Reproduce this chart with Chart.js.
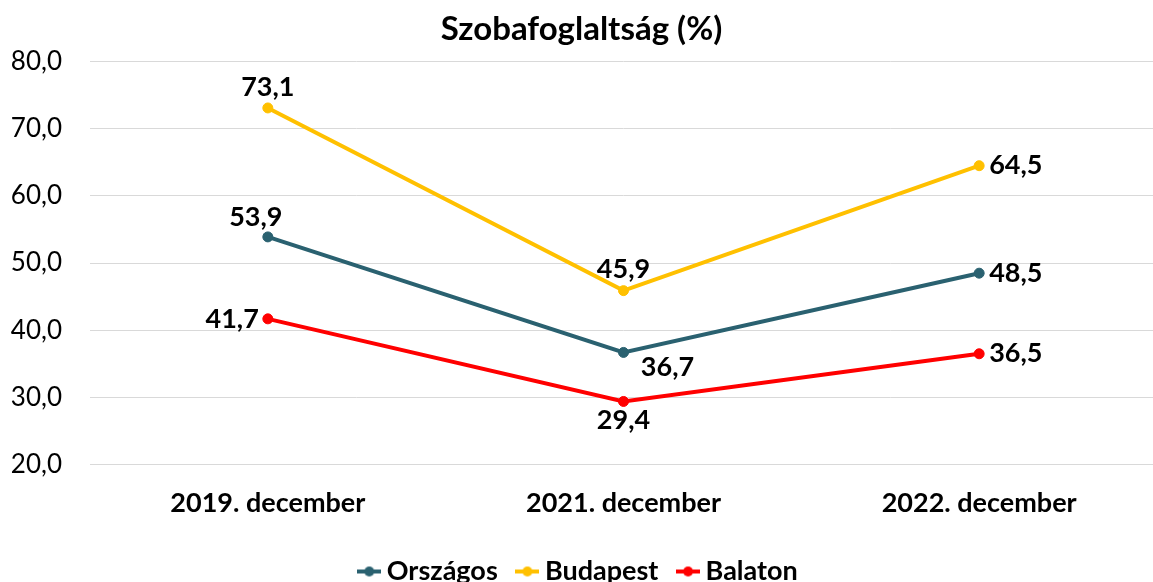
<!DOCTYPE html>
<html>
<head>
<meta charset="utf-8">
<script src="https://cdn.jsdelivr.net/npm/chart.js@4/dist/chart.umd.min.js"></script>
<style>
  html, body { margin: 0; padding: 0; background: #fff; overflow: hidden; }
  #wrap { width: 1163px; height: 582px; }
</style>
</head>
<body>
<div id="wrap"><canvas id="szobaChart"></canvas></div>
<script>
// adatok
const honapok = ['2019. december', '2021. december', '2022. december'];
const orszagos = [53.9, 36.7, 48.5];
const budapest = [73.1, 45.9, 64.5];
const balaton = [41.7, 29.4, 36.5];

// címkék helye pontonként
const cimkeHely = {
    'Országos': ['topleft', 'bottomright', 'right'],
    'Budapest': ['top', 'top', 'right'],
    'Balaton': ['left', 'bottom', 'right']
};

const betu = 'Lato, "Open Sans", sans-serif';

function szam(v) {
    return v.toFixed(1).replace('.', ',');
}

// jelmagyarázat ikon: vonal + pötty
function ikon(szin) {
    const c = document.createElement('canvas');
    c.width = 24; c.height = 14;
    const g = c.getContext('2d');
    g.strokeStyle = szin; g.lineWidth = 4;
    g.beginPath(); g.moveTo(0, 7); g.lineTo(24, 7); g.stroke();
    g.fillStyle = szin;
    g.beginPath(); g.arc(12, 7, 5, 0, Math.PI * 2); g.fill();
    return c;
}

const cimkek = {
    id: 'cimkek',
    afterDatasetsDraw(chart) {
        const ctx = chart.ctx;
        ctx.save();
        ctx.font = 'bold 27px ' + betu;
        ctx.fillStyle = '#000';
        chart.data.datasets.forEach((ds, i) => {
            const meta = chart.getDatasetMeta(i);
            meta.data.forEach((pt, j) => {
                const hely = cimkeHely[ds.label][j];
                let x = pt.x, y = pt.y;
                ctx.textAlign = 'center';
                ctx.textBaseline = 'middle';
                if (hely === 'top') { y -= 21; }
                else if (hely === 'bottom') { y += 19; }
                else if (hely === 'left') { x -= 9; ctx.textAlign = 'right'; }
                else if (hely === 'right') { x += 10; ctx.textAlign = 'left'; }
                else if (hely === 'topleft') { x -= 12; y -= 20; }
                else if (hely === 'bottomright') { x += 44; y += 15; }
                ctx.fillText(szam(ds.data[j]), x, y);
            });
        });
        ctx.restore();
    }
};

const ctx = document.getElementById('szobaChart').getContext('2d');
new Chart(ctx, {
    type: 'line',
    data: {
        labels: honapok,
        datasets: [
            { label: 'Országos', data: orszagos, borderColor: '#2A6170', backgroundColor: '#2A6170' },
            { label: 'Budapest', data: budapest, borderColor: '#FFC000', backgroundColor: '#FFC000' },
            { label: 'Balaton', data: balaton, borderColor: '#FF0000', backgroundColor: '#FF0000' }
        ]
    },
    options: {
        responsive: true,
        maintainAspectRatio: false,
        animation: false,
        layout: { padding: { left: 0, right: 0, top: 0, bottom: -13 } },
        elements: {
            line: { borderWidth: 4, tension: 0 },
            point: { radius: 5, hoverRadius: 5 }
        },
        scales: {
            x: {
                offset: true,
                grid: { display: false },
                border: { color: '#d9d9d9' },
                afterFit(scale) { scale.height += 19; },
                ticks: { color: '#000', font: { family: betu, size: 27, weight: 'bold' }, padding: 14 }
            },
            y: {
                min: 20,
                max: 80,
                border: { display: false },
                grid: { color: '#d9d9d9', drawTicks: false },
                afterFit(scale) { scale.width = 90; },
                ticks: {
                    stepSize: 10,
                    color: '#000',
                    padding: 28,
                    font: { family: betu, size: 26 },
                    callback: v => szam(v)
                }
            }
        },
        plugins: {
            title: {
                display: true,
                text: 'Szobafoglaltság (%)',
                color: '#000',
                font: { family: betu, size: 33, weight: 'bold' },
                padding: { top: 10, bottom: 12 }
            },
            legend: {
                position: 'bottom',
                labels: {
                    color: '#000',
                    font: { family: betu, size: 27, weight: 'bold' },
                    usePointStyle: true,
                    pointStyleWidth: 8,
                    padding: 6,
                    generateLabels(chart) {
                        const n = chart.data.datasets.length;
                        return chart.data.datasets.map((ds, i) => ({
                            // a tételek közé egy kis hely
                            text: i < n - 1 ? ds.label + '\u00A0\u00A0\u00A0' : ds.label,
                            pointStyle: ikon(ds.borderColor),
                            fillStyle: ds.borderColor,
                            strokeStyle: ds.borderColor,
                            lineWidth: 0,
                            hidden: false,
                            datasetIndex: i,
                            fontColor: '#000'
                        }));
                    }
                }
            },
            tooltip: { enabled: false }
        }
    },
    plugins: [cimkek]
});
</script>
</body>
</html>
